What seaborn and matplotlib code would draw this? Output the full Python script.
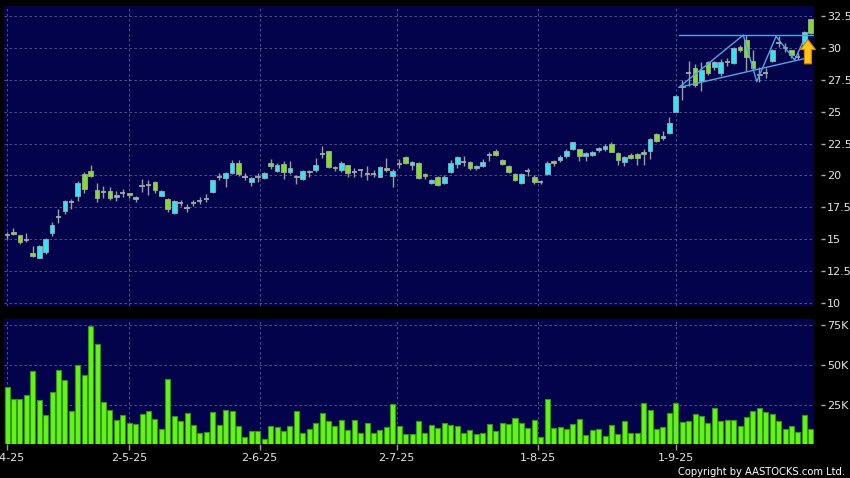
import matplotlib
matplotlib.use("Agg")
import numpy as np
import matplotlib.pyplot as plt
import seaborn as sns

# daily candles (bar 0 = 1-4-25)
opens = [15.3, 15.55, 15.3, 14.95, 13.9, 13.55, 14.0, 15.5, 16.7, 17.2,
         17.9, 18.4, 20.1, 20.35, 18.85, 18.7, 18.8, 18.3, 18.6, 18.6,
         18.15, 19.2, 19.25, 19.5, 18.4, 18.15, 17.05, 17.85, 17.45, 17.8,
         18.0, 18.15, 18.7, 19.9, 19.8, 20.2, 21.0, 19.9, 19.5, 19.95,
         19.8, 21.0, 20.35, 20.9, 20.25, 19.95, 19.7, 20.35, 20.4, 21.7,
         21.9, 20.65, 20.4, 20.8, 20.25, 20.4, 20.1, 20.1, 19.9, 20.6,
         19.95, 20.9, 21.45, 20.8, 21.0, 20.1, 19.4, 19.9, 19.4, 20.3,
         20.9, 21.05, 21.05, 20.6, 20.75, 21.6, 21.9, 21.2, 20.75, 20.1,
         19.4, 20.35, 19.9, 19.5, 20.1, 21.1, 21.2, 21.5, 22.05, 22.05,
         21.5, 21.6, 22.0, 22.05, 22.45, 21.75, 21.05, 21.6, 21.7, 21.85,
         21.9, 23.25, 22.95, 23.3, 25.0, 27.0, 28.0, 28.4, 27.4, 28.9,
         28.5, 28.0, 28.9, 28.8, 30.05, 30.6, 29.0, 27.95, 28.0, 29.0,
         30.35, 30.05, 29.8, 29.3, 30.3, 32.25]
closes = [15.4, 15.4, 14.8, 14.95, 13.65, 14.5, 15.0, 16.1, 16.7, 18.0,
          17.9, 19.4, 18.9, 19.95, 18.2, 18.7, 18.25, 18.5, 18.6, 18.45,
          18.3, 19.2, 19.25, 18.85, 18.8, 17.4, 18.0, 17.85, 17.45, 17.8,
          18.0, 18.15, 19.6, 19.9, 20.2, 21.0, 20.1, 19.9, 19.8, 19.85,
          20.2, 20.7, 20.8, 20.25, 20.55, 19.85, 20.35, 20.25, 20.8, 21.7,
          20.65, 20.55, 21.0, 20.2, 20.25, 20.4, 20.1, 20.1, 20.65, 20.45,
          20.35, 20.9, 20.95, 21.05, 19.8, 19.95, 19.65, 19.25, 19.9, 21.0,
          21.45, 21.05, 20.6, 20.75, 21.05, 21.6, 21.6, 20.9, 20.25, 19.65,
          20.1, 20.35, 19.5, 19.5, 21.0, 20.95, 21.45, 21.9, 22.6, 21.5,
          21.75, 21.85, 22.15, 22.3, 21.85, 21.2, 21.45, 21.35, 21.35, 21.7,
          22.85, 22.7, 23.05, 24.1, 26.2, 26.9, 28.0, 27.1, 28.25, 28.0,
          28.9, 28.9, 28.9, 30.0, 29.8, 29.3, 28.4, 27.85, 28.0, 29.8,
          30.35, 29.95, 29.4, 29.3, 31.25, 31.2]
highs = [15.55, 15.85, 15.35, 15.5, 14.5, 14.55, 15.1, 16.35, 17.35, 18.05,
         18.15, 19.55, 20.3, 20.85, 19.4, 19.2, 19.1, 18.75, 18.95, 18.65,
         18.35, 19.7, 19.65, 19.55, 18.85, 18.2, 18.1, 18.1, 17.75, 18.1,
         18.3, 18.55, 19.6, 20.15, 20.3, 21.2, 21.2, 20.15, 19.85, 20.2,
         20.3, 21.3, 21.0, 21.1, 21.1, 20.0, 20.45, 20.4, 21.4, 22.3,
         21.95, 20.75, 21.1, 20.85, 20.6, 20.5, 20.75, 20.45, 20.75, 21.35,
         20.5, 21.25, 21.5, 21.1, 21.05, 20.15, 19.7, 19.95, 20.0, 21.2,
         21.55, 21.5, 21.15, 20.85, 21.3, 21.85, 22.05, 21.3, 20.8, 20.15,
         20.15, 20.6, 20.0, 19.6, 21.1, 21.2, 21.6, 22.1, 22.65, 22.1,
         21.8, 21.9, 22.2, 22.5, 22.65, 21.8, 21.5, 21.75, 21.75, 22.05,
         22.9, 23.3, 23.5, 24.6, 26.3, 27.5, 29.0, 28.7, 28.9, 29.0,
         29.0, 29.1, 29.2, 30.1, 30.2, 31.0, 29.8, 28.5, 28.4, 29.9,
         30.9, 30.35, 29.85, 29.6, 31.3, 32.3]
lows = [15.0, 15.3, 14.6, 14.8, 13.6, 13.5, 13.85, 15.25, 16.25, 16.95,
        17.4, 18.0, 18.6, 19.85, 17.95, 18.2, 18.1, 18.0, 18.3, 18.25,
        17.95, 18.7, 18.5, 18.6, 18.35, 17.1, 17.0, 17.6, 17.15, 17.6,
        17.75, 17.9, 18.6, 19.6, 19.1, 20.1, 19.95, 19.6, 19.2, 19.5,
        19.75, 20.5, 20.3, 19.7, 20.1, 19.3, 19.65, 19.9, 20.3, 21.4,
        20.6, 20.35, 20.3, 19.9, 19.9, 19.9, 19.6, 19.85, 19.85, 20.3,
        19.1, 20.6, 20.9, 20.4, 19.75, 19.75, 19.35, 19.15, 19.35, 20.2,
        20.6, 20.7, 20.4, 20.45, 20.65, 21.1, 21.55, 20.8, 20.2, 19.55,
        19.3, 19.95, 19.3, 19.3, 20.0, 20.7, 21.05, 21.4, 22.0, 21.1,
        21.1, 21.55, 21.8, 21.95, 21.8, 20.8, 20.7, 21.3, 20.8, 20.8,
        21.3, 22.65, 22.8, 23.25, 24.95, 25.9, 27.0, 26.9, 26.6, 27.9,
        28.3, 27.8, 28.6, 28.7, 29.7, 28.2, 28.3, 27.3, 27.6, 28.9,
        30.1, 29.7, 29.2, 29.1, 29.8, 31.1]
volume_k = [36, 29, 28.5, 31.5, 46, 28, 18.5, 33, 47, 40.5,
            21, 50, 44, 74.5, 63, 27, 22, 15.5, 18.5, 13.5,
            13, 19.5, 21.5, 16, 10, 41.5, 18, 15, 20, 12.3,
            7.5, 8, 20.5, 12.7, 22, 21, 12, 5, 9, 8.7,
            3.7, 11.7, 11.5, 8.7, 11.8, 21, 7.7, 9.8, 14, 19.8,
            14.8, 11.9, 15.6, 9.2, 15.4, 7.3, 14, 7.7, 9.6, 11.2,
            25.6, 12.1, 6.7, 7.1, 15.2, 7.7, 12.3, 10.6, 13.5, 12.7,
            11.7, 7.5, 9.4, 6.7, 7.3, 12.9, 8.5, 13.5, 12.9, 17,
            13.5, 10.8, 15.4, 5, 28.5, 10.4, 11, 10.2, 12.9, 16,
            6.2, 9.2, 10, 5.8, 12.5, 7.1, 14.8, 7.7, 7.5, 26,
            21.7, 9.8, 11, 20, 26, 14.2, 15, 19.4, 17.9, 14,
            22.9, 15, 15.8, 15.8, 11.9, 17.5, 21.2, 23.1, 20.6, 19.2,
            15, 9.8, 11.9, 8.1, 18.7, 9.8]

date_labels = ["1-4-25", "2-5-25", "2-6-25", "2-7-25", "1-8-25", "1-9-25"]
date_pos = [0, 19, 39.3, 60.6, 82.5, 104]

# triangle pattern drawn on the chart (bar index, price)
resist_x = [104.5, 125.3]
resist_y = [31.0, 31.0]
support_x = [104.5, 124.4]
support_y = [26.9, 29.2]
zigzag_x = [104.5, 114.5, 116.6, 119.6, 122.5, 123.8]
zigzag_y = [26.9, 31.0, 27.35, 30.9, 29.05, 30.5]

NAVY = "#03034c"
UP = "#33e4f4"
DOWN = "#7fe02a"
GRID = "#5c5c92"
TXT = "#e6e6e6"

sns.set_theme(style="dark", rc={"axes.facecolor": NAVY, "figure.facecolor": "black"})
plt.rcParams["font.family"] = ["DejaVu Sans"]

o = np.array(opens)
c = np.array(closes)
idx = np.arange(len(o))

fig = plt.figure(figsize=(8.5, 4.78), dpi=100, facecolor="black")
ax = fig.add_axes([4 / 850, 1 - 306 / 478, 810 / 850, 300 / 478])
axv = fig.add_axes([4 / 850, 1 - 443.5 / 478, 810 / 850, 124.5 / 478])

# --- price candles
ax.vlines(idx, lows, highs, color="#9c9c9c", lw=1, zorder=3)
body_lo = np.minimum(o, c)
body_h = np.maximum(np.abs(c - o), 0.06)
cols = np.where(c > o, UP, DOWN)
is_doji = o == c
ax.bar(idx[~is_doji], body_h[~is_doji], bottom=body_lo[~is_doji], width=0.74,
       color=cols[~is_doji], edgecolor="#a6a6a6", linewidth=0.6, zorder=4)
ax.hlines(o[is_doji], idx[is_doji] - 0.4, idx[is_doji] + 0.4, color="#a8a8a8", lw=1.3, zorder=4)

# pattern lines
sns.lineplot(x=resist_x, y=resist_y, ax=ax, color="#4fa6e6", lw=1, zorder=5)
sns.lineplot(x=support_x, y=support_y, ax=ax, color="#4fa6e6", lw=1, zorder=5)
sns.lineplot(x=zigzag_x, y=zigzag_y, ax=ax, color="#4fa6e6", lw=1, sort=False,
             estimator=None, zorder=5)
ax.annotate("", xy=(124.55, 30.65), xytext=(124.55, 28.75),
            arrowprops=dict(arrowstyle="simple,head_width=0.9,head_length=0.6,tail_width=0.42",
                            fc="#ffc61a", ec="#d98000", lw=0.8, shrinkA=0, shrinkB=0),
            zorder=6)

ax.set_xlim(-0.47, 125.5)
ax.set_ylim(9.76, 33.28)
ax.set_yticks(np.arange(10, 32.6, 2.5))
ax.set_yticklabels([f"{v:g}" for v in np.arange(10, 32.6, 2.5)])
ax.set_xticks(date_pos)
ax.set_xticklabels([])
ax.yaxis.tick_right()

# --- volume
sns.barplot(x=idx, y=volume_k, native_scale=True, width=0.78, color="#66f21c",
            edgecolor="#2f9a0c", linewidth=0.8, saturation=1, errorbar=None, ax=axv, zorder=3)
axv.set_xlim(-0.47, 125.5)
axv.set_ylim(1.0, 78.8)
axv.set_yticks([25, 50, 75])
axv.set_yticklabels(["25K", "50K", "75K"])
axv.set_xticks(date_pos)
axv.set_xticklabels(date_labels)
axv.yaxis.tick_right()
axv.set_xlabel("")
axv.set_ylabel("")

for a in (ax, axv):
    a.set_facecolor(NAVY)
    a.grid(True, color=GRID, lw=0.6, ls=(0, (3, 3)))
    a.set_axisbelow(True)
    for s in a.spines.values():
        s.set_visible(False)
    a.spines["right"].set_position(("outward", 5))
    a.tick_params(axis="y", which="both", right=True, left=False, length=3, width=1,
                  color="#b0b0b0", labelcolor=TXT, labelsize=8, pad=1.2)
ax.tick_params(axis="x", length=0)
axv.tick_params(axis="x", bottom=True, length=4, width=1, color="#9a9a9a",
                labelcolor=TXT, labelsize=8, pad=3)

fig.text(0.994, 6.3 / 478, "Copyright by AASTOCKS.com Ltd.", ha="right", va="center",
         color="white", fontsize=7.2)

fig.savefig("out.png", dpi=100, facecolor="black")
